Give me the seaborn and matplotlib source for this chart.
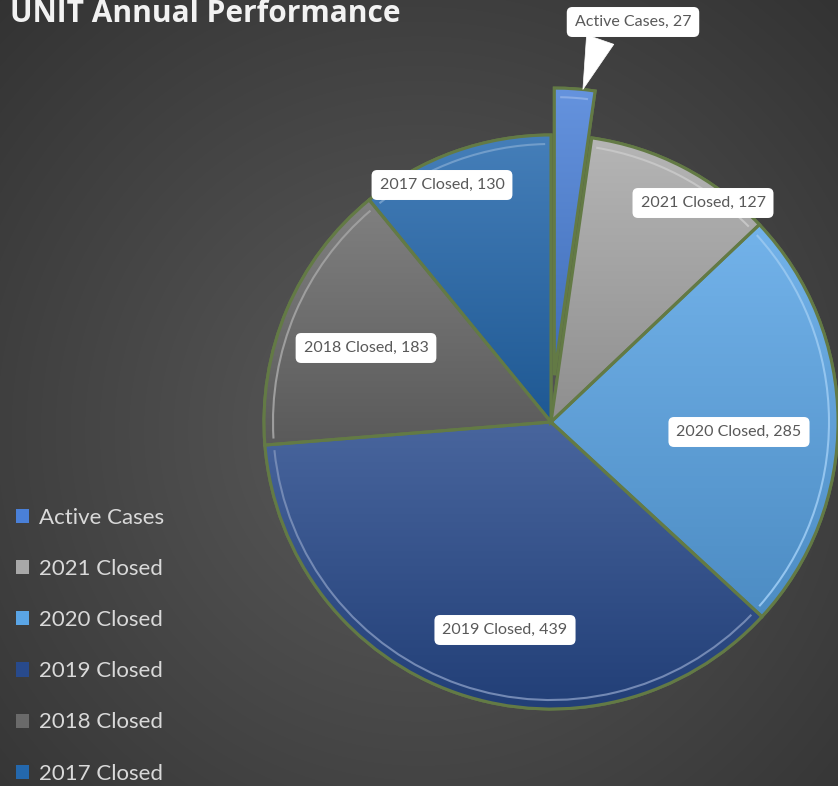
import numpy as np
import matplotlib
matplotlib.use('Agg')
import matplotlib.pyplot as plt
import matplotlib.patches as patches
from matplotlib.colors import to_rgb, LinearSegmentedColormap
import seaborn as sns

# 数据
categories = ['Active Cases', '2021 Closed', '2020 Closed', '2019 Closed', '2018 Closed', '2017 Closed']
values = [27, 127, 285, 439, 183, 130]
colors = ['#4a80d8', '#a8a8a8', '#5aa5e6', '#284a8c', '#6a6a6a', '#2468ad']
explode = [47, 0, 0, 0, 0, 0]
# 标签位置 (像素, 原点左下)
label_xy = [(633, 764), (703, 583), (739, 354), (505, 156), (366, 438), (442, 601)]

sns.set_theme(style='dark')
plt.rcParams['font.family'] = ['Lato', 'DejaVu Sans']

W, H = 838, 786
fig = plt.figure(figsize=(W / 100, H / 100), dpi=100)
ax = fig.add_axes([0, 0, 1, 1])
ax.set_xlim(0, W)
ax.set_ylim(0, H)
ax.axis('off')

# 背景径向渐变
yy, xx = np.mgrid[0:H, 0:W]
d = np.hypot(xx - 420, yy - 430) / 600
g = np.clip(0.36 - 0.16 * d, 0.15, 0.4)
ax.imshow(np.dstack([g, g, g]), extent=(0, W, 0, H), origin='upper', zorder=0, aspect='auto')

center = (551, H - 422)
radius = 287
wedges, _ = ax.pie(values, colors=colors, startangle=90, counterclock=False,
                   explode=explode, center=center, radius=radius,
                   wedgeprops=dict(edgecolor='#637a45', linewidth=2.2),
                   frame=True)
ax.set_xlim(0, W)
ax.set_ylim(0, H)
ax.set_aspect('equal')
ax.axis('off')

# 扇区渐变与内部高光
for w, c in zip(wedges, colors):
    rgb = np.array(to_rgb(c))
    top = rgb + (1 - rgb) * 0.15
    bot = rgb * 0.85
    cmap = LinearSegmentedColormap.from_list('g', [bot, top])
    bb = w.get_path().get_extents(w.get_patch_transform())
    grad = np.linspace(1, 0, 100).reshape(-1, 1)
    im = ax.imshow(grad, cmap=cmap, extent=(bb.x0, bb.x1, bb.y0, bb.y1),
                   origin='upper', aspect='auto', zorder=w.get_zorder() + 0.1)
    im.set_clip_path(w)
    lite = rgb + (1 - rgb) * 0.35
    arc = patches.Arc(w.center, 2 * (radius - 9), 2 * (radius - 9), theta1=w.theta1 + 1.2,
                      theta2=w.theta2 - 1.2, color=lite, lw=1.5, zorder=w.get_zorder() + 0.2)
    ax.add_patch(arc)
    edge = patches.Wedge(w.center, radius, w.theta1, w.theta2, facecolor='none',
                         edgecolor='#637a45', lw=2.2, zorder=w.get_zorder() + 0.3)
    ax.add_patch(edge)

# 数据标签
box = dict(boxstyle='round,pad=0.5,rounding_size=0.35', fc='white', ec='none')
for i, (cat, v, (lx, ly)) in enumerate(zip(categories, values, label_xy)):
    txt = f'{cat}, {v}'
    if i == 0:
        ax.annotate(txt, xy=(582, H - 92), xytext=(lx, ly), ha='center', va='center',
                    fontsize=11.5, color='#595959', bbox=box, zorder=10,
                    arrowprops=dict(arrowstyle='wedge,tail_width=1.8,shrink_factor=0.5',
                                    fc='white', ec='white', lw=0.5,
                                    relpos=(0.25, 0.0)))
    else:
        ax.text(lx, ly, txt, ha='center', va='center', fontsize=11.5, color='#595959',
                bbox=box, zorder=10)

# 图例
handles = [patches.Rectangle((0, 0), 1, 1, fc=c, ec='none') for c in colors]
leg = fig.legend(handles, categories, loc='upper left', bbox_to_anchor=(16 / W, 1 - 508 / H),
                 frameon=False, fontsize=16, handlelength=0.6, handleheight=0.6,
                 handletextpad=0.45, labelspacing=1.4, borderpad=0, borderaxespad=0)
for t in leg.get_texts():
    t.set_color('#d9d9d9')

# 标题
fig.text(10 / W, 1 - 22 / H, 'UNIT Annual Performance', fontsize=21.5, fontweight='bold',
         color='#f2f2f2', ha='left', va='baseline', family=['Open Sans', 'DejaVu Sans'])

fig.savefig('out.png', dpi=100)
